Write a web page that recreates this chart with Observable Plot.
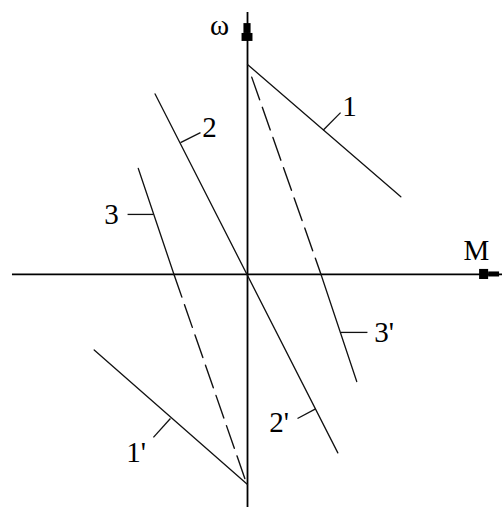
<!DOCTYPE html>
<html>
<head>
<meta charset="utf-8">
<script src="https://cdn.jsdelivr.net/npm/d3@7"></script>
<script src="https://cdn.jsdelivr.net/npm/@observablehq/plot@0.6"></script>
<style>
  html, body { margin: 0; padding: 0; background: #fff; }
  #chart svg { display: block; }
</style>
</head>
<body>
<div id="chart"></div>
<script>
// Mechanical characteristics ω(M) of a DC motor in relative units (ω0 = 1).
// Each characteristic is a list of [M, ω] points.
const char1 = [[0, 1.0], [0.73, 0.37]];            // 1  – motor mode, forward
const char1p = [[-0.73, -0.36], [0, -1.0]];        // 1' – motor mode, reverse
const char2 = [[-0.44, 0.86], [0.43, -0.85]];      // 2, 2' – dynamic braking through origin
const char3Solid = [[-0.52, 0.505], [-0.35, 0]];   // 3  – counter-current, solid part
const char3Dashed = [[-0.35, 0], [-0.01, -0.98]];  // 3  – continuation to −ω0
const char3pDashed = [[0.02, 0.94], [0.35, 0]];    // 3' – continuation from +ω0
const char3pSolid = [[0.35, 0], [0.52, -0.51]];    // 3' – counter-current, solid part

// Curve labels with their leader strokes: [fromM, fromω, toM, toω]
const labelText = ["1", "2", "3", "3'", "2'", "1'"];
const labelM = [0.486, -0.181, -0.648, 0.650, 0.150, -0.530];
const labelW = [0.800, 0.700, 0.286, -0.276, -0.705, -0.848];
const leaders = [
  [0.36, 0.687, 0.443, 0.771],
  [-0.319, 0.628, -0.224, 0.676],
  [-0.449, 0.286, -0.571, 0.286],
  [0.445, -0.276, 0.571, -0.276],
  [0.324, -0.640, 0.238, -0.686],
  [-0.367, -0.686, -0.448, -0.776]
];

// Visible extent of the axes
const mView = [-1.176, 1.214];
const wView = [-1.110, 1.305];
const mAxis = [-1.119, 1.214];
const wAxis = [-1.110, 1.248];

// Arrowheads at the ends of the axes, built from blocks: [M1, M2, ω1, ω2]
const arrowBlocks = [
  [1.105, 1.148, -0.024, 0.024],
  [1.148, 1.200, -0.012, 0.012],
  [-0.026, 0.026, 1.110, 1.148],
  [-0.017, 0.017, 1.148, 1.195]
];

// Axis names
const axisNames = [
  {text: "ω", M: -0.133, w: 1.185, anchor: "middle"},
  {text: "M", M: 1.090, w: 0.114, anchor: "start"}
];

const toPts = (arr) => arr.map(([M, w]) => ({M, w}));
const font = "'Liberation Serif', 'Times New Roman', serif";

const solidCurves = [char1, char1p, char2, char3Solid, char3pSolid];
const dashedCurves = [char3Dashed, char3pDashed];

const labels = labelText.map((t, i) => ({t, M: labelM[i], w: labelW[i]}));

const chart = Plot.plot({
  width: 502,
  height: 507,
  margin: 0,
  x: {domain: mView},
  y: {domain: wView},
  axis: null,
  style: {background: "white", fontFamily: font},
  marks: [
    // coordinate axes
    Plot.ruleY([0], {x1: mAxis[0], x2: mAxis[1], stroke: "#000", strokeWidth: 1.8}),
    Plot.ruleX([0], {y1: wAxis[0], y2: wAxis[1], stroke: "#000", strokeWidth: 1.8}),
    Plot.rect(arrowBlocks, {x1: d => d[0], x2: d => d[1], y1: d => d[2], y2: d => d[3], fill: "#000"}),
    // solid characteristics
    ...solidCurves.map(c => Plot.line(toPts(c), {x: "M", y: "w", stroke: "#111", strokeWidth: 1.3})),
    // dashed continuations
    ...dashedCurves.map(c => Plot.line(toPts(c), {x: "M", y: "w", stroke: "#111", strokeWidth: 1.4, strokeDasharray: "24,8"})),
    // leader strokes
    Plot.link(leaders, {x1: d => d[0], y1: d => d[1], x2: d => d[2], y2: d => d[3], stroke: "#111", strokeWidth: 1.3}),
    // curve labels
    Plot.text(labels, {x: "M", y: "w", text: "t", fontSize: 29, fill: "#000", textAnchor: "middle", lineAnchor: "middle"}),
    // axis names
    Plot.text(axisNames, {x: "M", y: "w", text: "text", textAnchor: "anchor", fontSize: 29, fill: "#000", lineAnchor: "middle"})
  ]
});

document.getElementById("chart").appendChild(chart);
</script>
</body>
</html>
